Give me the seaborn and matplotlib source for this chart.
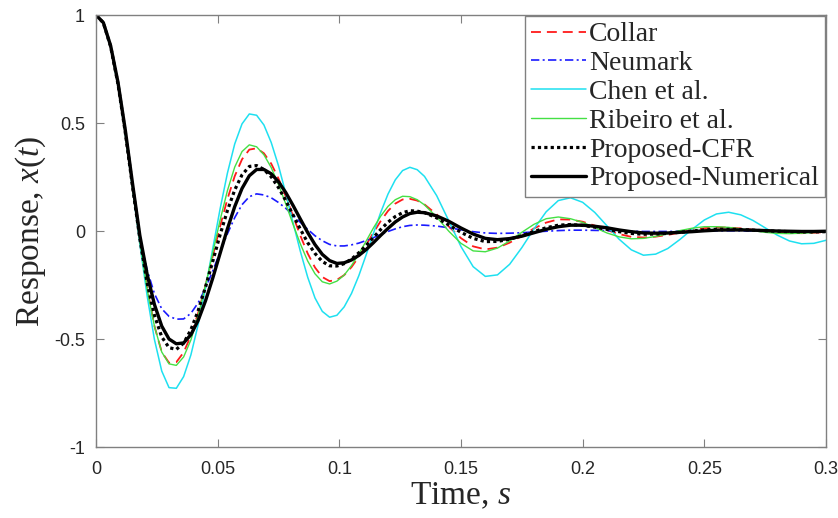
import seaborn as sns
import matplotlib.pyplot as plt

# time samples (s)
time = [
    0.000, 0.003, 0.006, 0.009, 0.012, 0.015, 0.018, 0.021, 0.024, 0.027,
    0.030, 0.033, 0.036, 0.039, 0.042, 0.045, 0.048, 0.051, 0.054, 0.057,
    0.060, 0.063, 0.066, 0.069, 0.072, 0.075, 0.078, 0.081, 0.084, 0.087,
    0.090, 0.093, 0.096, 0.099, 0.102, 0.105, 0.108, 0.111, 0.114, 0.117,
    0.120, 0.123, 0.126, 0.129, 0.132, 0.135,
    0.140, 0.145, 0.150, 0.155, 0.160, 0.165, 0.170, 0.175, 0.180, 0.185,
    0.190, 0.195, 0.200, 0.205, 0.210, 0.215, 0.220, 0.225, 0.230, 0.235,
    0.240, 0.245, 0.250, 0.255, 0.260, 0.265, 0.270, 0.275, 0.280, 0.285,
    0.290, 0.295, 0.300]

collar = [
    1.0, 0.963, 0.851, 0.676, 0.451, 0.200, -0.045, -0.265, -0.440, -0.560,
    -0.610, -0.607, -0.562, -0.484, -0.378, -0.252, -0.115, 0.022, 0.148, 0.254,
    0.332, 0.377, 0.383, 0.360, 0.312, 0.243, 0.160, 0.069, -0.022, -0.104,
    -0.169, -0.213, -0.232, -0.226, -0.204, -0.167, -0.119, -0.065, -0.008, 0.046,
    0.093, 0.127, 0.146, 0.149, 0.141, 0.123,
    0.077, 0.021, -0.033, -0.071, -0.085, -0.077, -0.054, -0.022, 0.012, 0.039,
    0.054, 0.053, 0.043, 0.025, 0.004, -0.014, -0.027, -0.030, -0.026, -0.018,
    -0.007, 0.005, 0.013, 0.017, 0.016, 0.012, 0.006, 0.000, -0.006, -0.009,
    -0.010, -0.008, -0.005]

neumark = [
    1.0, 0.965, 0.857, 0.688, 0.466, 0.215, -0.030, -0.180, -0.290, -0.360,
    -0.395, -0.408, -0.407, -0.381, -0.332, -0.265, -0.184, -0.097, -0.013, 0.062,
    0.122, 0.159, 0.172, 0.167, 0.154, 0.132, 0.105, 0.073, 0.040, 0.008,
    -0.022, -0.045, -0.062, -0.069, -0.069, -0.064, -0.056, -0.044, -0.031, -0.016,
    -0.002, 0.010, 0.020, 0.026, 0.028, 0.027,
    0.023, 0.015, 0.006, -0.003, -0.009, -0.011, -0.010, -0.008, -0.004, -0.001,
    0.002, 0.004, 0.004, 0.003, 0.002, 0.001, -0.001, -0.002, -0.002, -0.002,
    -0.001, 0.000, 0.001, 0.001, 0.001, 0.001, 0.000, 0.000, 0.000, 0.000,
    0.000, 0.000, 0.000]

chen = [
    1.0, 0.962, 0.849, 0.672, 0.448, 0.197, -0.060, -0.300, -0.502, -0.648,
    -0.725, -0.728, -0.674, -0.573, -0.432, -0.263, -0.080, 0.103, 0.268, 0.403,
    0.496, 0.542, 0.536, 0.491, 0.410, 0.302, 0.174, 0.038, -0.095, -0.214,
    -0.310, -0.372, -0.399, -0.390, -0.351, -0.289, -0.207, -0.111, -0.011, 0.086,
    0.171, 0.237, 0.280, 0.295, 0.284, 0.253,
    0.164, 0.047, -0.072, -0.165, -0.210, -0.203, -0.154, -0.077, 0.010, 0.089,
    0.141, 0.154, 0.133, 0.086, 0.024, -0.038, -0.087, -0.112, -0.107, -0.081,
    -0.039, 0.008, 0.051, 0.079, 0.087, 0.075, 0.049, 0.015, -0.019, -0.046,
    -0.059, -0.057, -0.043]

ribeiro = [
    1.0, 0.963, 0.852, 0.677, 0.452, 0.200, -0.045, -0.270, -0.440, -0.560,
    -0.615, -0.622, -0.583, -0.504, -0.390, -0.251, -0.100, 0.051, 0.187, 0.296,
    0.368, 0.399, 0.390, 0.353, 0.294, 0.215, 0.125, 0.030, -0.060, -0.139,
    -0.198, -0.235, -0.245, -0.232, -0.204, -0.160, -0.106, -0.047, 0.014, 0.069,
    0.114, 0.145, 0.161, 0.159, 0.145, 0.121,
    0.065, -0.001, -0.057, -0.092, -0.096, -0.079, -0.046, -0.006, 0.031, 0.057,
    0.065, 0.057, 0.040, 0.016, -0.009, -0.027, -0.036, -0.034, -0.025, -0.012,
    0.002, 0.013, 0.020, 0.020, 0.017, 0.010, 0.002, -0.006, -0.011, -0.012,
    -0.010, -0.007, -0.002]

proposed_cfr = [
    1.0, 0.964, 0.854, 0.682, 0.458, 0.206, -0.035, -0.240, -0.390, -0.490,
    -0.540, -0.548, -0.519, -0.457, -0.368, -0.259, -0.139, -0.017, 0.095, 0.190,
    0.260, 0.299, 0.303, 0.285, 0.251, 0.201, 0.141, 0.074, 0.008, -0.054,
    -0.104, -0.141, -0.161, -0.162, -0.151, -0.130, -0.101, -0.067, -0.030, 0.007,
    0.041, 0.067, 0.085, 0.094, 0.092, 0.085,
    0.061, 0.028, -0.006, -0.034, -0.049, -0.048, -0.038, -0.022, -0.002, 0.015,
    0.027, 0.030, 0.026, 0.018, 0.008, -0.003, -0.011, -0.015, -0.014, -0.011,
    -0.006, 0.000, 0.005, 0.008, 0.008, 0.007, 0.004, 0.001, -0.001, -0.003,
    -0.004, -0.004, -0.003]

proposed_num = [
    1.0, 0.965, 0.858, 0.690, 0.470, 0.220, -0.020, -0.200, -0.340, -0.440,
    -0.500, -0.522, -0.518, -0.480, -0.413, -0.323, -0.217, -0.103, 0.010, 0.113,
    0.197, 0.256, 0.285, 0.285, 0.265, 0.228, 0.178, 0.118, 0.055, -0.007,
    -0.063, -0.108, -0.137, -0.150, -0.147, -0.134, -0.113, -0.086, -0.054, -0.020,
    0.012, 0.042, 0.065, 0.081, 0.087, 0.085,
    0.070, 0.045, 0.014, -0.014, -0.034, -0.040, -0.035, -0.024, -0.008, 0.008,
    0.020, 0.027, 0.027, 0.022, 0.015, 0.005, -0.003, -0.009, -0.010, -0.009,
    -0.006, -0.003, 0.001, 0.004, 0.005, 0.005, 0.004, 0.002, 0.000, -0.001,
    -0.002, -0.002, -0.001]

labels = ['Collar', 'Neumark', 'Chen et al.', 'Ribeiro et al.',
          'Proposed-CFR', 'Proposed-Numerical']
series = [collar, neumark, chen, ribeiro, proposed_cfr, proposed_num]

xticks = [0, 0.05, 0.1, 0.15, 0.2, 0.25, 0.3]
xtick_labels = ['0', '0.05', '0.1', '0.15', '0.2', '0.25', '0.3']
yticks = [-1, -0.5, 0, 0.5, 1]
ytick_labels = ['-1', '-0.5', '0', '0.5', '1']

# line styles (matlab-like)
colors = ['#ff1a1a', '#1a1aff', '#1ee0f0', '#44e044', 'black', 'black']
styles = [(0, (5.5, 3.3)), (0, (5, 2, 1.2, 2)), '-', '-', (0, (1, 1)), '-']
widths = [1.3, 1.2, 1.1, 1.0, 2.3, 2.4]

sns.set_style("ticks")
plt.rcParams['font.family'] = ['Liberation Serif', 'DejaVu Serif']
plt.rcParams['mathtext.fontset'] = 'custom'
plt.rcParams['mathtext.rm'] = 'Liberation Serif'
plt.rcParams['mathtext.it'] = 'Liberation Serif:italic'

fig = plt.figure(figsize=(8.38, 5.18), dpi=100)
ax = fig.add_axes([0.1146, 0.137, 0.871, 0.834])

for vals, lab, c, ls, lw in zip(series, labels, colors, styles, widths):
    sns.lineplot(x=time, y=vals, ax=ax, color=c, linestyle=ls, lw=lw, label=lab)

ax.set_xlim(0, 0.3)
ax.set_ylim(-1, 1)
ax.set_xticks(xticks)
ax.set_xticklabels(xtick_labels)
ax.set_yticks(yticks)
ax.set_yticklabels(ytick_labels)

for lab in ax.get_xticklabels() + ax.get_yticklabels():
    lab.set_family(['Liberation Sans', 'DejaVu Sans'])
    lab.set_fontsize(13)

ax.tick_params(direction='in', length=6, width=0.8, color='#808080',
               top=True, right=True)
ax.tick_params(axis='x', pad=10)
ax.tick_params(axis='y', pad=8)
for sp in ax.spines.values():
    sp.set_visible(True)
    sp.set_color('#808080')
    sp.set_linewidth(1.0)

ax.set_xlabel('Time, $\\mathit{s}$', fontsize=24, labelpad=2)
ax.set_ylabel('Response, $\\mathit{x(t)}$', fontsize=24, labelpad=4)

leg = ax.legend(loc='upper right', fontsize=20, frameon=True, fancybox=False,
                framealpha=1, edgecolor='#808080', borderaxespad=0.05,
                handlelength=2.0, handletextpad=0.1, labelspacing=0.12,
                borderpad=0.2)
leg.get_frame().set_linewidth(1.0)

fig.savefig('out.png', dpi=100)
